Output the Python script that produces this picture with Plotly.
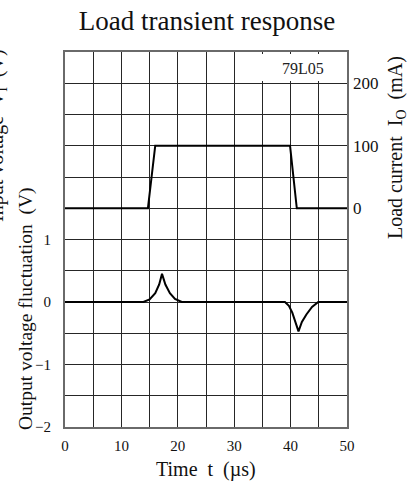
import plotly.graph_objects as go

# Load current (mA) vs time (us)
t_current = [0, 14.7, 16.0, 39.9, 41.1, 50]
i_current = [0, 0, 100, 100, 0, 0]

# Output voltage fluctuation (V) vs time (us)
t_voltage = [0, 13.9, 15.0, 16.0, 16.7, 17.2, 17.8, 18.6, 19.5, 20.7,
             39.0, 39.7, 40.3, 40.9, 41.4, 42.0, 42.8, 43.8, 44.9, 50]
v_voltage = [0, 0, 0.04, 0.14, 0.28, 0.45, 0.28, 0.14, 0.05, 0,
             0, -0.06, -0.17, -0.32, -0.47, -0.32, -0.2, -0.08, 0, 0]

x_ticks = [0, 10, 20, 30, 40, 50]
v_ticks = [-2, -1, 0, 1]
i_ticks = [0, 100, 200]

SERIF = "Liberation Serif, Times New Roman, serif"
GRID = "#262626"
BORDER = "#6a6a6a"
NB = "\u00a0"

fig = go.Figure()
fig.add_trace(go.Scatter(x=t_voltage, y=v_voltage, mode="lines",
                         line=dict(color="black", width=2), yaxis="y",
                         showlegend=False, hoverinfo="skip"))
fig.add_trace(go.Scatter(x=t_current, y=i_current, mode="lines",
                         line=dict(color="black", width=2), yaxis="y2",
                         showlegend=False, hoverinfo="skip"))

fig.update_layout(
    width=414, height=484,
    margin=dict(l=65, r=67, t=52, b=57),
    paper_bgcolor="white", plot_bgcolor="white",
    font=dict(family=SERIF, color="#111", size=15),
    title=dict(text="Load transient response", x=0.5, xanchor="center",
               xref="container", y=1 - 21 / 484, yref="container",
               yanchor="middle", font=dict(size=27, family=SERIF, color="#111")),
    xaxis=dict(range=[0, 50], tickvals=x_ticks, ticks="", showgrid=True,
               gridcolor=GRID, gridwidth=1.3, zeroline=False,
               showline=True, mirror=True, linecolor=BORDER, linewidth=2,
               ticklabelstandoff=4, tickfont=dict(size=15, family=SERIF),
               minor=dict(dtick=5, tick0=0, showgrid=True, gridcolor=GRID,
                          gridwidth=1.3, ticks="")),
    yaxis=dict(range=[-2, 4], tickvals=v_ticks, ticktext=["\u22122", "\u22121", "0", "1"],
               ticks="", showgrid=True, gridcolor=GRID, gridwidth=1.3,
               zeroline=False, showline=True, mirror=True, linecolor=BORDER,
               linewidth=2, ticklabelstandoff=9, tickfont=dict(size=15, family=SERIF),
               minor=dict(dtick=0.5, tick0=-2, showgrid=True, gridcolor=GRID,
                          gridwidth=1.3, ticks="")),
    yaxis2=dict(range=[-350, 250], tickvals=i_ticks, overlaying="y", side="right",
                ticks="", showgrid=False, zeroline=False, showline=False,
                ticklabelstandoff=5, tickfont=dict(size=17, family=SERIF)),
    shapes=[dict(type="rect", xref="x", yref="y", x0=30.35, x1=49.8, y0=3.535, y1=3.97,
                 fillcolor="white", line=dict(width=0), layer="between")],
    annotations=[
        dict(text="79L05", x=42.2, y=3.73, xref="x", yref="y", showarrow=False,
             font=dict(size=16, family=SERIF, color="#222")),
        dict(text=f"Time{NB} t{NB} (\u00b5s)", x=0.5, y=-(469 - 427) / 375, xref="paper", yref="paper",
             showarrow=False, yanchor="middle", font=dict(size=20, family=SERIF, color="#111")),
        dict(text=f"Output voltage fluctuation{NB} (V)", x=(26 - 65) / 282, y=(427 - 309) / 375,
             xref="paper", yref="paper", showarrow=False, textangle=-90,
             xanchor="center", yanchor="middle", font=dict(size=19.5, family=SERIF, color="#111")),
        dict(text=f"Input voltage{NB} V<sub>I</sub>{NB} (V)", x=(-3 - 65) / 282, y=(427 - 136) / 375,
             xref="paper", yref="paper", showarrow=False, textangle=-90,
             xanchor="center", yanchor="middle", font=dict(size=20, family=SERIF, color="#111")),
        dict(text=f"Load current{NB} I<sub>O</sub>{NB} (mA)", x=(396 - 65) / 282, y=(427 - 148) / 375,
             xref="paper", yref="paper", showarrow=False, textangle=-90,
             xanchor="center", yanchor="middle", font=dict(size=20, family=SERIF, color="#111")),
    ],
)

fig.write_html("out.html", config={"displayModeBar": False},
               post_script="document.body.style.margin='0';")
